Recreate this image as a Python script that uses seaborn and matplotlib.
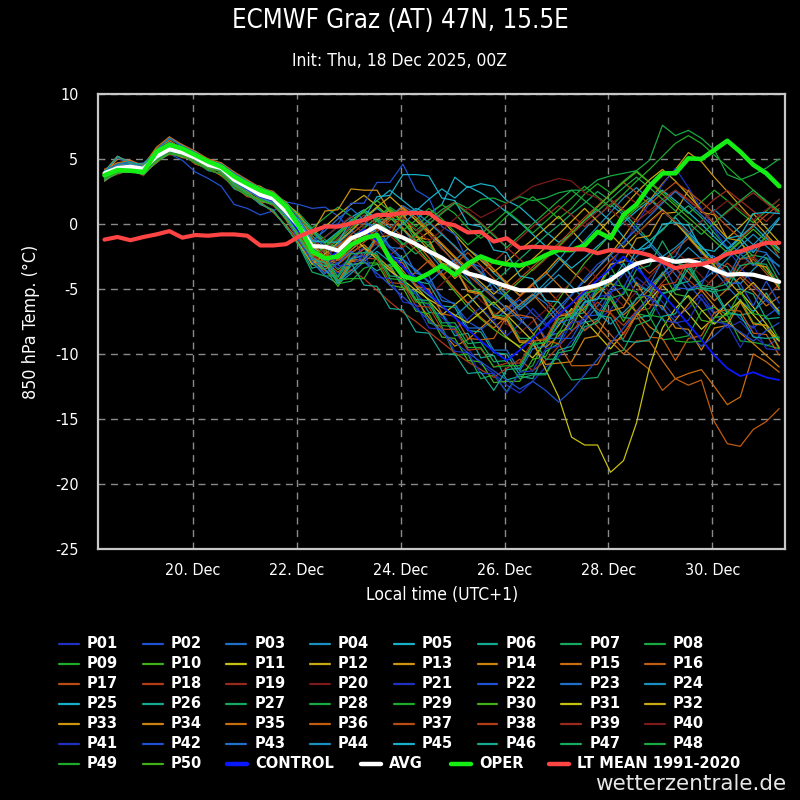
import numpy as np
import pandas as pd
import matplotlib
matplotlib.use("Agg")
import matplotlib.pyplot as plt
import matplotlib.dates as mdates
from matplotlib.lines import Line2D
import seaborn as sns

# ---------------- data ----------------
times = pd.date_range("2025-12-18 07:00", periods=53, freq="6h")

p01 = [3.4,3.9,4.1,3.8,4.8,5.4,5.2,4.9,4.3,4.1,3.1,2.4,1.8,1.5,0.4,-0.8,-2.5,-3.2,-3.8,-2.9,-2.2,-1.5,-2.4,-3.0,-4.1,-5.2,-6.8,-8.3,-9.6,-10.8,-11.5,-12.4,-13.0,-12.1,-11.0,-10.2,-9.0,-8.1,-7.4,-6.6,-5.2,-4.1,-4.9,-6.0,-7.2,-6.5,-5.4,-6.8,-8.0,-7.5,-8.6,-9.4,-8.8]
p02 = [3.3,4.0,4.4,4.3,5.2,5.4,4.9,4.0,3.5,2.9,1.5,1.2,0.7,1.0,1.7,1.5,1.2,1.3,0.6,-0.5,-1.2,-0.8,-1.9,-2.8,-3.5,-4.4,-5.6,-6.2,-7.5,-8.1,-7.4,-6.6,-5.8,-6.9,-7.8,-6.7,-5.5,-4.2,-3.1,-2.4,-3.3,-4.5,-5.2,-4.0,-3.4,-4.6,-5.8,-6.9,-6.1,-7.3,-8.0,-7.1,-6.4]
p03 = [3.7,4.6,4.5,4.4,5.3,6.1,5.7,5.1,4.7,4.1,3.3,2.5,2.1,1.5,0.6,-0.4,-1.8,-2.6,-3.1,-2.0,-1.1,-0.3,0.6,1.4,0.8,-0.5,-1.8,-3.0,-4.2,-5.5,-6.3,-7.0,-6.2,-5.4,-6.1,-7.3,-8.2,-7.5,-6.3,-5.0,-3.8,-2.5,-1.6,-2.7,-3.9,-5.1,-4.4,-3.6,-4.8,-5.9,-6.7,-5.8,-7.0]
p04 = [3.6,4.1,4.2,4.0,5.0,5.6,5.4,5.0,4.4,4.4,3.6,3.0,2.5,2.1,1.2,0.2,-1.2,-2.3,-1.5,-0.6,0.4,1.2,0.5,-0.4,-1.6,-2.2,-3.4,-2.8,-1.9,-2.6,-3.8,-4.6,-5.5,-4.7,-3.9,-2.8,-1.5,-0.4,0.6,1.5,0.7,-0.5,-1.4,-2.5,-1.8,-0.9,-1.7,-2.9,-3.8,-4.6,-3.5,-2.6,-3.2]
p05 = [4.0,5.2,4.7,4.6,5.6,6.2,5.9,5.3,4.8,4.5,3.5,2.9,2.1,1.8,0.7,-0.6,-1.5,-1.0,-0.2,0.5,1.1,0.4,-0.3,0.5,1.2,0.8,1.5,3.6,2.8,3.1,2.9,1.8,1.3,0.4,-0.6,-1.4,-0.8,0.3,1.1,0.2,-1.0,-2.1,-1.3,-0.4,0.5,-0.6,-1.7,-2.8,-2.0,-1.1,-2.2,-0.9,0.4]
p06 = [3.7,4.3,4.3,4.1,5.1,5.8,5.5,5.2,4.5,4.0,3.0,2.3,1.6,1.0,-0.2,-1.6,-3.4,-3.1,-4.5,-3.2,-2.9,-3.6,-3.1,-4.9,-5.2,-6.8,-6.9,-8.6,-8.4,-10.3,-10.1,-12.0,-11.7,-11.9,-9.8,-9.2,-7.1,-6.8,-4.8,-4.6,-3.0,-4.7,-5.2,-6.6,-4.7,-4.4,-2.7,-2.9,-3.3,-5.0,-5.4,-7.3,-7.2]
p07 = [3.9,4.4,4.5,4.2,5.3,5.9,5.6,5.0,4.6,4.3,3.6,3.2,2.8,2.4,1.6,0.3,-0.9,-1.8,-0.9,0.2,0.9,0.3,-0.6,-1.5,-2.3,-1.6,-0.8,-1.7,-2.9,-3.8,-4.5,-3.6,-2.7,-1.8,-0.9,-0.1,0.8,1.6,2.5,1.8,0.9,-0.2,-1.3,-0.5,0.6,1.4,0.5,-0.7,-1.8,-2.7,-1.9,-1.0,-2.0]
p08 = [3.5,4.0,4.3,4.1,4.9,5.5,5.3,4.7,4.2,3.8,2.8,2.2,1.9,1.5,0.8,-0.5,-2.6,-3.0,-4.6,-4.4,-3.4,-3.1,-3.2,-4.9,-5.4,-7.6,-7.9,-10.1,-10.0,-11.9,-11.6,-12.9,-11.4,-10.9,-8.7,-8.4,-6.6,-6.6,-5.1,-4.6,-4.8,-6.9,-7.1,-8.9,-8.8,-8.6,-6.7,-6.4,-7.0,-9.0,-9.1,-9.3,-9.6]
p09 = [4.1,4.6,4.8,4.4,5.7,6.6,6.0,5.5,4.9,4.6,3.9,3.3,2.7,2.4,1.5,0.6,-0.4,-1.2,-2.0,-1.1,-0.3,0.5,1.3,0.6,-0.2,0.7,1.5,0.8,-0.3,-1.1,-0.4,0.6,1.4,2.1,1.3,0.4,1.2,2.3,3.1,2.4,3.3,4.1,3.2,2.5,1.6,0.8,1.7,2.6,1.8,0.9,0.1,1.0,1.9]
p10 = [3.8,4.4,4.7,4.4,5.5,6.1,5.7,5.3,4.7,4.4,3.7,3.1,2.6,2.2,1.3,0.1,-1.4,-2.6,-3.5,-2.7,-1.8,-2.5,-3.4,-2.6,-1.7,-2.9,-4.0,-5.2,-6.4,-7.3,-8.1,-8.8,-9.4,-8.6,-7.2,-5.8,-4.4,-3.0,-1.9,-0.8,0.3,1.2,2.0,1.1,0.2,-0.9,-2.0,-3.1,-2.3,-1.4,-2.5,-3.6,-4.7]
p11 = [3.5,4.2,4.1,4.1,4.9,5.7,5.3,5.1,4.3,4.5,3.5,3.1,2.4,2.2,1.1,-0.3,-1.9,-3.0,-2.2,-1.3,-0.5,-1.4,-2.5,-3.6,-4.8,-5.9,-7.0,-6.2,-5.4,-6.5,-7.6,-8.7,-9.5,-10.3,-9.1,-7.8,-6.5,-7.4,-8.5,-9.6,-8.4,-7.0,-5.9,-4.7,-5.8,-6.9,-8.1,-7.2,-6.1,-5.2,-6.4,-7.7,-9.0]
p12 = [4.0,4.3,4.6,4.1,5.4,5.8,5.7,4.9,4.7,4.2,3.7,3.1,2.9,2.3,1.7,0.4,-0.8,-0.2,0.7,1.5,2.2,1.4,0.5,-0.4,-1.3,-0.6,0.3,-0.8,-1.9,-2.8,-3.7,-2.9,-2.0,-1.2,-0.3,0.6,-0.5,-1.6,-0.7,0.4,1.3,2.4,3.4,4.2,3.3,2.2,1.1,0.0,-1.1,-0.2,0.8,-0.3,-1.4]
p13 = [3.9,5.0,4.8,4.5,5.8,6.4,5.8,5.4,4.7,4.6,3.4,3.0,2.0,1.9,0.8,-0.9,-2.4,-3.3,-2.5,-1.6,-0.7,0.3,1.1,0.2,-0.9,-2.0,-3.1,-4.2,-3.3,-2.4,-3.5,-4.6,-5.5,-4.6,-3.7,-2.6,-3.6,-4.5,-3.4,-2.3,-1.0,0.4,1.8,3.1,4.2,5.5,4.8,3.6,2.5,1.4,0.3,-0.8,-1.9]
p14 = [3.3,4.0,4.0,3.9,4.7,5.5,5.1,5.0,4.2,4.2,3.0,2.5,1.7,1.6,0.3,-1.2,-2.6,-3.8,-3.0,-2.2,-1.6,-2.5,-3.4,-4.6,-5.8,-7.2,-8.3,-9.4,-8.9,-8.0,-7.1,-6.3,-7.2,-8.4,-9.5,-8.6,-7.5,-6.4,-5.3,-4.5,-5.7,-6.8,-7.9,-8.6,-7.4,-6.2,-5.1,-6.3,-7.5,-8.4,-9.2,-10.1,-11.0]
p15 = [3.8,4.2,4.4,4.0,5.2,5.7,5.6,5.1,4.6,3.9,3.1,2.2,1.7,0.9,-0.1,-1.3,-2.8,-3.5,-2.7,-1.8,-1.0,-0.2,0.7,-0.3,-1.4,-2.6,-3.8,-5.0,-6.1,-7.2,-8.0,-7.1,-6.2,-5.4,-6.5,-7.6,-6.8,-5.7,-4.6,-5.8,-7.0,-6.1,-5.0,-3.9,-2.8,-3.7,-4.8,-5.9,-5.0,-4.1,-5.2,-6.3,-5.6]
p16 = [3.6,3.9,4.4,4.0,5.0,5.4,5.4,4.6,4.3,3.7,2.9,2.1,2.0,1.4,0.9,-0.7,-2.0,-2.9,-3.7,-2.8,-1.9,-2.7,-3.6,-4.5,-3.7,-2.8,-3.9,-5.0,-6.1,-5.3,-4.4,-5.5,-6.6,-5.8,-4.9,-6.0,-7.1,-8.2,-7.4,-8.5,-9.6,-10.4,-11.2,-12.8,-11.9,-12.4,-12.0,-15.2,-16.9,-17.1,-15.8,-15.2,-14.2]
p17 = [4.2,4.5,4.9,4.3,5.8,6.5,6.1,5.4,5.0,4.5,4.0,3.2,2.8,2.3,1.6,0.3,-1.1,-2.2,-3.1,-2.3,-1.4,-0.6,0.3,1.1,0.3,-0.8,-1.9,-2.9,-3.9,-4.8,-5.7,-6.5,-5.6,-4.7,-5.8,-6.9,-6.1,-5.0,-3.9,-2.8,-1.9,-2.9,-3.8,-2.9,-2.0,-1.1,-2.2,-3.3,-4.4,-3.6,-2.7,-3.8,-4.9]
p18 = [3.9,4.4,4.7,4.2,5.5,5.9,5.5,5.3,4.5,4.3,3.1,2.7,1.9,1.7,0.4,-1.0,-2.4,-3.6,-4.3,-3.5,-4.2,-5.1,-6.0,-6.8,-7.5,-8.3,-9.1,-9.9,-10.6,-11.2,-11.8,-11.1,-10.4,-11.3,-10.5,-9.4,-8.3,-7.1,-6.0,-6.9,-7.8,-6.7,-5.6,-4.5,-3.4,-4.3,-5.2,-4.1,-3.0,-3.9,-4.8,-5.7,-4.6]
p19 = [3.8,4.5,4.4,4.3,5.2,6.0,5.5,5.1,4.5,4.4,3.5,3.3,2.7,2.5,1.5,0.5,-0.7,-1.5,-0.8,0.1,-0.7,-1.6,-2.4,-1.6,-0.7,0.2,-0.7,-1.8,-2.9,-3.8,-2.9,-2.0,-1.1,-0.2,0.6,1.4,0.7,-0.2,0.6,1.5,2.3,1.6,0.8,1.7,2.5,1.8,1.0,1.9,2.6,1.8,1.0,0.2,1.2]
p20 = [3.5,3.8,4.2,3.7,4.9,5.3,5.3,4.8,4.4,4.0,3.2,2.3,1.9,1.4,0.5,-0.9,-2.3,-3.2,-2.4,-1.5,-0.6,-1.5,-2.6,-3.7,-4.6,-5.5,-4.6,-3.7,-4.8,-5.9,-6.8,-7.7,-8.4,-7.5,-6.6,-5.5,-4.4,-3.3,-4.2,-5.3,-6.3,-5.2,-4.1,-3.0,-2.1,-3.0,-4.0,-5.0,-4.2,-3.3,-2.5,-3.4,-4.3]
p21 = [3.7,4.0,4.3,3.9,5.1,5.5,5.5,4.9,4.5,4.3,3.7,2.9,2.6,2.0,1.3,0.0,-1.6,-2.7,-3.4,-2.6,-1.8,-2.7,-3.6,-4.5,-5.4,-6.3,-7.2,-8.1,-7.3,-6.4,-7.5,-8.6,-7.7,-6.5,-7.6,-8.8,-7.6,-6.2,-4.8,-3.2,-1.6,0.0,1.6,3.0,4.3,2.8,1.2,-0.4,-1.9,-3.3,-4.6,-5.9,-6.8]
p22 = [4.1,5.1,4.6,4.7,5.5,6.3,5.8,5.2,4.9,4.4,3.6,2.8,2.2,1.7,0.8,-0.5,-1.7,-0.2,0.0,1.6,1.6,3.2,3.2,4.6,2.6,2.0,-0.2,-0.8,-2.9,-3.3,-5.2,-5.5,-7.2,-7.2,-8.8,-8.8,-8.8,-7.1,-7.0,-5.2,-4.9,-3.0,-2.7,-3.0,-4.9,-5.0,-4.7,-2.8,-4.5,-4.6,-6.3,-4.4,-6.1]
p23 = [4.0,4.7,4.7,4.5,5.6,6.7,5.9,5.6,4.8,4.7,3.8,3.4,2.6,2.5,1.4,0.2,-1.6,-1.7,-1.7,0.0,0.0,-0.1,-1.8,-1.9,-3.8,-4.0,-5.9,-6.1,-8.0,-8.0,-9.7,-9.7,-11.3,-9.6,-9.4,-7.6,-7.3,-5.4,-5.0,-3.1,-2.8,-3.0,-4.7,-2.8,-2.5,-0.6,-2.3,-2.5,-4.2,-2.3,-2.0,-2.2,-3.9]
p24 = [3.6,4.4,4.2,4.2,5.0,5.9,5.4,5.3,4.4,4.1,2.9,2.4,1.5,1.1,-0.3,-1.4,-2.9,-4.0,-4.6,-3.8,-2.9,-2.1,-2.9,-3.8,-4.7,-5.5,-6.3,-7.1,-6.2,-5.3,-4.4,-5.4,-6.4,-5.5,-4.5,-3.5,-2.4,-1.3,-0.2,0.9,2.0,2.8,1.9,1.0,0.1,-0.8,0.2,1.1,0.2,-0.7,-1.6,-0.6,0.5]
p25 = [4.0,4.4,4.4,4.3,5.3,5.8,5.6,5.1,4.6,4.2,3.7,3.3,2.8,2.4,1.6,0.6,-0.5,-1.4,-0.6,0.3,1.0,1.8,2.6,1.8,1.0,1.9,2.7,2.0,2.9,2.4,1.7,0.9,0.1,-0.8,-1.7,-2.5,-3.4,-2.6,-1.7,-0.8,0.1,1.0,1.8,2.6,1.8,0.9,0.0,-1.0,-1.9,-1.0,-0.1,-1.1,-2.0]
p26 = [3.4,4.1,4.2,4.2,4.8,5.6,5.2,4.8,4.1,3.9,2.7,2.3,1.8,1.6,0.7,-0.2,-2.1,-2.5,-4.1,-2.7,-2.4,-0.9,-2.5,-2.7,-4.4,-4.6,-6.3,-6.4,-8.2,-8.3,-9.9,-10.0,-11.6,-11.5,-11.5,-9.7,-9.4,-7.6,-7.3,-5.5,-7.2,-7.3,-7.0,-5.3,-5.1,-3.4,-4.9,-5.3,-6.9,-7.0,-6.8,-5.3,-6.9]
p27 = [3.8,4.5,4.5,4.4,5.4,6.0,5.7,5.2,4.6,4.1,3.2,2.6,2.1,1.6,0.5,-0.9,-3.0,-3.2,-3.1,-1.5,-1.3,0.3,0.4,0.3,-1.3,-1.4,-3.2,-3.4,-5.1,-5.2,-7.0,-7.1,-8.8,-8.8,-10.4,-10.4,-12.0,-11.9,-11.8,-10.0,-9.7,-7.8,-7.4,-5.4,-5.0,-3.0,-4.7,-4.9,-4.6,-2.7,-2.4,-2.6,-4.4]
p28 = [4.1,4.6,4.8,4.4,5.7,6.6,6.0,5.5,4.9,4.6,3.9,3.3,2.7,2.4,1.5,0.8,-0.3,0.5,1.3,0.6,-0.3,0.5,1.2,0.4,-0.5,0.3,1.1,1.7,1.2,1.9,2.0,1.6,2.1,1.8,2.0,2.4,2.6,2.6,3.4,3.7,3.9,4.1,4.9,7.6,6.8,7.2,6.6,5.7,3.8,3.4,3.8,4.3,5.0]
p29 = [3.6,4.1,4.3,4.0,5.0,5.6,5.4,5.0,4.4,4.3,3.6,3.0,2.5,2.1,1.2,0.1,-1.3,-2.1,-1.2,-0.3,0.5,1.3,0.5,-0.5,0.3,1.2,0.4,-0.6,-1.6,-0.8,0.1,1.0,0.2,-0.7,0.2,1.1,2.0,2.9,2.1,1.3,2.3,3.3,4.2,5.2,6.2,6.8,6.2,5.3,4.4,3.5,2.6,1.7,0.9]
p30 = [3.4,3.9,4.1,3.8,4.8,5.4,5.2,4.9,4.2,4.1,3.1,2.4,1.8,1.5,0.4,-1.1,-3.1,-3.5,-4.8,-3.1,-3.0,-3.0,-4.7,-4.9,-6.7,-6.9,-8.7,-8.8,-10.5,-10.6,-12.2,-12.1,-12.1,-10.4,-10.2,-8.3,-8.0,-6.0,-5.7,-5.8,-7.5,-5.7,-5.5,-3.7,-5.4,-5.6,-7.4,-7.6,-7.5,-5.8,-7.6,-7.8,-9.6]
p31 = [4.0,5.2,4.7,4.6,5.6,6.2,5.9,5.3,4.8,4.5,3.5,2.9,2.1,1.8,0.7,-0.3,-1.7,-2.5,-1.7,-0.9,-1.8,-2.7,-3.6,-4.3,-5.1,-5.8,-6.4,-7.0,-7.6,-6.8,-6.0,-7.0,-8.0,-9.0,-11.2,-13.3,-16.4,-17.0,-17.0,-19.1,-18.2,-15.3,-11.0,-8.0,-6.5,-5.5,-6.6,-7.7,-6.8,-5.9,-7.0,-8.1,-9.0]
p32 = [3.7,4.3,4.3,4.1,5.1,5.8,5.5,5.2,4.5,4.0,3.0,2.3,1.6,1.0,-0.2,-1.5,-3.1,-2.3,-1.4,-0.5,0.4,1.3,2.1,1.2,0.3,-0.6,-1.6,-2.6,-3.6,-4.5,-5.4,-4.5,-3.6,-2.7,-1.8,-0.8,0.2,1.2,0.2,-0.8,-1.8,-0.8,0.2,1.1,0.1,-1.0,-2.1,-3.2,-4.3,-5.4,-4.5,-5.6,-6.7]
p33 = [3.9,4.4,4.5,4.2,5.3,5.9,5.6,5.0,4.6,4.3,3.6,3.2,2.8,2.4,1.6,0.7,-0.7,1.0,1.1,2.7,2.6,2.6,0.9,0.8,-1.0,-1.2,-3.0,-3.3,-5.1,-5.3,-7.1,-7.3,-9.0,-9.0,-8.9,-7.1,-6.9,-5.1,-4.9,-3.1,-2.9,-1.1,-0.9,0.8,0.9,2.6,0.9,0.7,-1.1,-1.3,-3.1,-3.3,-5.0]
p34 = [3.5,4.0,4.3,4.1,4.9,5.5,5.3,4.7,4.2,3.8,2.8,2.2,1.9,1.5,0.8,-0.4,-2.3,-2.7,-4.4,-2.8,-2.7,-1.0,-0.9,0.8,-1.0,-1.2,-3.1,-3.3,-5.2,-5.4,-7.2,-7.4,-9.1,-9.2,-10.8,-10.7,-10.6,-8.8,-8.6,-6.7,-6.4,-4.5,-6.2,-6.3,-8.0,-8.1,-9.7,-8.0,-7.8,-6.0,-7.7,-7.8,-9.5]
p35 = [4.2,4.7,4.9,4.5,5.9,6.7,6.1,5.6,5.0,4.7,4.0,3.4,2.8,2.5,1.6,0.2,-1.1,-2.0,-2.8,-2.0,-1.2,-0.4,0.5,1.3,0.5,-0.5,-1.5,-2.5,-3.4,-2.6,-3.5,-4.5,-5.5,-4.6,-3.7,-4.7,-5.8,-6.8,-7.9,-9.0,-10.0,-9.0,-9.0,-10.5,-11.9,-11.5,-11.2,-12.5,-13.9,-13.3,-10.0,-10.6,-11.4]
p36 = [3.8,4.5,4.6,4.3,5.4,6.0,5.6,5.2,4.6,4.2,3.2,2.6,2.0,1.6,0.5,-0.8,-2.6,-2.9,-4.5,-2.9,-2.8,-1.1,-2.8,-3.0,-4.8,-5.0,-6.9,-7.1,-8.8,-8.9,-8.8,-7.1,-7.0,-7.2,-9.0,-9.2,-10.9,-10.9,-10.8,-9.0,-8.8,-7.0,-8.7,-8.8,-10.5,-8.8,-8.6,-6.8,-6.6,-6.7,-8.4,-8.5,-10.1]
p37 = [3.6,4.1,4.2,4.0,5.0,5.6,5.4,5.0,4.4,4.4,3.6,3.0,2.5,2.1,1.2,0.0,-1.5,-2.5,-1.7,-0.8,0.0,0.8,-0.1,-1.0,-2.0,-3.0,-4.0,-3.1,-2.2,-3.2,-4.2,-5.1,-4.2,-3.3,-2.4,-1.5,-0.5,0.5,1.4,2.3,3.2,2.4,1.5,2.4,3.2,2.5,1.7,0.8,-0.2,-1.1,-0.2,0.7,1.5]
p38 = [4.0,5.2,4.7,4.6,5.6,6.2,5.9,5.3,4.8,4.5,3.5,2.9,2.1,1.8,0.7,-0.7,-2.5,-2.6,-2.6,-0.9,-2.6,-2.7,-4.5,-4.6,-6.3,-6.4,-8.1,-8.1,-9.7,-9.6,-11.0,-10.7,-10.7,-9.0,-8.8,-7.0,-6.8,-4.9,-6.6,-6.8,-8.5,-6.7,-6.5,-4.7,-4.5,-2.7,-2.6,-2.7,-4.4,-2.7,-2.6,-0.9,-2.6]
p39 = [3.7,4.3,4.3,4.1,5.1,5.8,5.5,5.2,4.5,4.0,3.0,2.3,1.6,1.0,-0.2,-1.4,-2.7,-1.9,-1.1,-0.2,0.7,0.0,-0.9,-1.8,-0.9,0.0,0.9,1.7,0.9,0.1,-0.8,-1.8,-2.7,-3.6,-2.7,-1.8,-0.8,0.1,1.0,1.9,1.1,0.2,1.0,1.9,2.6,1.9,1.0,0.1,0.9,1.7,2.4,1.6,0.8]
p40 = [3.5,4.0,4.3,4.1,4.9,5.5,5.3,4.7,4.2,3.8,2.8,2.2,1.9,1.5,0.8,-0.6,-1.8,-1.0,-0.2,0.6,-0.3,-1.2,-0.4,0.5,-0.4,-1.3,-0.5,0.4,1.2,0.5,1.0,1.6,2.2,2.9,3.2,3.5,3.3,2.4,2.0,1.1,0.2,-0.8,0.1,1.0,0.2,-0.7,0.2,1.0,1.8,1.1,0.3,1.1,1.9]
p41 = [3.9,4.4,4.5,4.2,5.3,5.9,5.6,5.0,4.6,4.3,3.6,3.2,2.8,2.4,1.6,0.4,-1.3,-1.5,-3.2,-3.2,-2.4,-4.1,-4.2,-6.0,-6.2,-8.0,-8.1,-9.8,-9.9,-11.5,-11.5,-13.0,-11.4,-11.3,-9.6,-9.4,-7.6,-7.4,-5.6,-5.4,-3.6,-5.4,-5.6,-7.4,-7.6,-7.4,-5.7,-7.5,-7.7,-9.5,-7.8,-9.6,-9.7]
p42 = [3.4,3.9,4.1,3.8,4.8,5.4,5.2,4.9,4.3,4.1,3.1,2.4,1.8,1.5,0.4,-1.3,-2.9,-3.8,-3.0,-2.1,-2.9,-3.8,-4.7,-5.6,-6.5,-7.4,-8.3,-9.1,-9.9,-10.6,-11.3,-12.0,-12.7,-12.1,-12.8,-13.7,-12.8,-11.6,-10.4,-9.2,-8.0,-6.8,-5.6,-6.5,-7.5,-8.5,-9.4,-8.6,-7.7,-8.3,-9.0,-8.2,-7.6]
p43 = [4.1,4.6,4.8,4.4,5.7,6.6,6.0,5.5,4.9,4.6,3.9,3.3,2.7,2.4,1.5,0.1,-1.3,-0.5,0.4,1.2,0.3,-0.7,-1.7,-2.7,-3.6,-4.5,-3.6,-2.7,-3.7,-4.7,-5.6,-6.5,-7.4,-8.2,-7.3,-6.4,-5.4,-4.4,-3.4,-2.4,-1.4,-0.4,0.6,1.6,2.5,1.6,0.7,-0.3,-1.3,-2.3,-3.2,-2.3,-3.3]
p44 = [3.8,4.5,4.6,4.3,5.4,6.0,5.6,5.2,4.6,4.2,3.2,2.6,2.0,1.6,0.5,-1.0,-2.5,-3.5,-4.4,-3.6,-2.7,-1.8,-0.9,0.0,0.9,0.1,-0.8,-1.7,-2.7,-3.7,-4.7,-5.7,-6.6,-5.7,-4.8,-3.9,-4.8,-5.8,-6.8,-7.7,-6.8,-5.8,-4.8,-3.8,-2.8,-1.8,-2.7,-3.7,-2.7,-1.7,-0.8,-1.7,-2.6]
p45 = [3.6,4.1,4.2,4.0,5.0,5.6,5.4,5.0,4.4,4.4,3.6,3.0,2.5,2.1,1.2,0.3,-1.3,-1.4,-1.4,0.3,0.4,2.1,2.2,3.8,3.8,3.7,2.0,1.8,0.0,-0.2,-2.0,-2.2,-4.0,-4.2,-5.9,-6.0,-7.3,-6.0,-5.8,-4.0,-3.8,-2.0,-1.8,0.0,0.1,-0.1,-1.9,-2.1,-1.1,-0.9,0.8,0.9,0.8]
p46 = [4.0,5.2,4.7,4.6,5.6,6.2,5.9,5.3,4.8,4.5,3.5,2.9,2.1,1.8,0.7,-0.9,-2.7,-3.0,-4.6,-3.0,-4.7,-4.8,-6.5,-6.6,-8.3,-8.4,-10.0,-10.0,-11.5,-11.4,-12.8,-11.2,-11.1,-9.3,-9.1,-7.3,-7.1,-5.3,-7.0,-7.2,-9.0,-9.1,-8.9,-7.1,-6.9,-5.1,-4.9,-5.0,-6.8,-7.0,-8.7,-8.8,-8.7]
p47 = [3.7,4.3,4.3,4.1,5.1,5.8,5.5,5.2,4.5,4.0,3.0,2.3,1.6,1.0,-0.2,-1.7,-3.7,-4.0,-4.0,-2.3,-2.2,-2.3,-4.0,-4.1,-5.8,-5.9,-7.6,-7.6,-9.2,-9.1,-10.6,-10.5,-11.9,-11.6,-11.6,-9.9,-9.7,-7.9,-7.6,-5.7,-5.4,-3.5,-3.2,-1.3,-3.0,-3.2,-5.0,-5.2,-5.0,-3.2,-3.0,-3.1,-4.8]
p48 = [3.9,4.4,4.5,4.2,5.3,5.9,5.6,5.0,4.6,4.3,3.6,3.2,2.8,2.4,1.6,0.5,-0.6,-1.5,-0.7,0.2,1.0,0.2,-0.7,-1.6,-0.8,0.0,0.8,1.6,0.8,0.0,-0.9,-1.8,-0.9,0.0,0.9,1.8,2.6,1.8,1.0,1.9,2.8,3.6,2.8,1.9,1.0,0.1,-0.8,0.1,1.0,1.8,2.6,1.8,1.0]
p49 = [3.5,4.0,4.3,4.1,4.9,5.5,5.3,4.7,4.2,3.8,2.8,2.2,1.9,1.5,0.8,-0.3,-2.2,-2.6,-4.3,-4.2,-4.2,-2.5,-4.2,-4.3,-6.0,-6.1,-7.8,-7.9,-9.5,-9.5,-11.0,-10.9,-10.9,-9.2,-9.1,-7.3,-7.1,-5.3,-5.1,-3.3,-5.0,-5.2,-7.0,-7.2,-9.0,-9.1,-9.0,-7.2,-7.0,-5.2,-6.9,-7.1,-8.9]
p50 = [3.4,3.9,4.1,3.8,4.8,5.4,5.2,4.9,4.3,4.1,3.1,2.4,1.8,1.5,0.4,-1.0,-2.5,-1.7,-0.8,0.1,1.0,1.8,1.0,0.1,-0.8,-1.7,-2.6,-3.5,-4.4,-5.3,-6.2,-5.3,-4.4,-3.5,-2.6,-1.7,-0.7,0.3,1.3,2.3,3.2,4.0,3.2,2.3,1.4,0.5,-0.4,-1.3,-2.2,-1.3,-0.4,-1.3,-2.2]

control = [3.7,4.2,4.4,4.2,5.2,5.8,5.5,5.0,4.5,4.2,3.3,2.7,2.1,1.8,0.8,-0.6,-2.0,-2.8,-2.1,-1.2,-0.4,-1.3,-2.3,-3.3,-4.3,-5.3,-6.3,-7.2,-8.1,-9.0,-9.8,-10.5,-9.7,-8.8,-7.9,-7.0,-6.1,-5.2,-4.3,-3.4,-2.5,-3.4,-4.4,-5.4,-6.5,-7.7,-8.9,-10.1,-11.1,-11.7,-11.4,-11.8,-12.0]
avg = [3.9,4.3,4.4,4.25,5.2,5.75,5.5,5.1,4.55,4.3,3.4,2.85,2.25,1.95,0.95,-0.2,-1.7,-1.75,-2.05,-1.1,-0.7,-0.15,-0.7,-1.05,-1.55,-2.1,-2.6,-3.25,-3.8,-4.05,-4.45,-4.8,-5.1,-5.1,-5.1,-5.1,-5.15,-4.95,-4.7,-4.3,-3.6,-3.05,-2.8,-2.65,-2.9,-2.8,-3.05,-3.5,-3.9,-3.85,-3.9,-4.15,-4.45]
oper = [3.75,4.15,4.1,4.0,5.55,6.1,5.8,5.3,4.8,4.4,3.65,3.1,2.6,2.25,1.35,-0.2,-2.1,-2.65,-2.5,-1.6,-1.1,-0.85,-2.7,-4.0,-4.3,-3.8,-3.2,-3.9,-3.05,-2.5,-2.9,-3.1,-3.2,-2.9,-2.4,-2.0,-2.0,-1.65,-0.6,-1.1,0.7,1.5,2.9,3.9,3.9,5.05,5.0,5.7,6.4,5.55,4.55,3.9,2.9]
lt_mean = [-1.2,-1.0,-1.25,-1.0,-0.8,-0.55,-1.05,-0.85,-0.9,-0.8,-0.8,-0.9,-1.65,-1.65,-1.55,-0.95,-0.55,-0.2,-0.2,0.05,0.3,0.7,0.7,0.85,0.85,0.85,0.1,-0.1,-0.65,-0.6,-1.35,-1.1,-1.85,-1.75,-1.8,-1.85,-1.95,-1.95,-2.25,-2.0,-2.1,-2.15,-2.4,-2.9,-3.4,-3.2,-3.1,-2.8,-2.3,-2.1,-1.75,-1.45,-1.45]

member_series = [p01,p02,p03,p04,p05,p06,p07,p08,p09,p10,p11,p12,p13,p14,p15,p16,p17,p18,p19,p20,
                 p21,p22,p23,p24,p25,p26,p27,p28,p29,p30,p31,p32,p33,p34,p35,p36,p37,p38,p39,p40,
                 p41,p42,p43,p44,p45,p46,p47,p48,p49,p50]
member_names = [f"P{i:02d}" for i in range(1, 51)]
for nm, s in zip(member_names, member_series):
    assert len(s) == len(times), (nm, len(s))
for s in (control, avg, oper, lt_mean):
    assert len(s) == len(times)

y_ticks = [-25, -20, -15, -10, -5, 0, 5, 10]
x_tick_dates = pd.to_datetime(["2025-12-20", "2025-12-22", "2025-12-24",
                               "2025-12-26", "2025-12-28", "2025-12-30"])

# ---------------- style ----------------
pal20 = ['#2030c0', '#1f50d0', '#1f70c8', '#1a90c0', '#18b0c8', '#14a890', '#14a860', '#18a840',
         '#1caa28', '#40b018', '#c8c010', '#c8a810', '#cc9410', '#cc8010', '#c86c10', '#c05c10',
         '#b84c14', '#b03c18', '#9a2a1e', '#7a1a1a']
member_colors = {nm: pal20[i % 20] for i, nm in enumerate(member_names)}
C_CONTROL = '#0a18ff'
C_AVG = '#ffffff'
C_OPER = '#14ee14'
C_LT = '#ff4444'

sns.set_style("dark", rc={"axes.facecolor": "black", "figure.facecolor": "black",
                          "axes.edgecolor": "#c8c8c8", "text.color": "white",
                          "xtick.color": "#b0b0b0", "ytick.color": "white"})
plt.rcParams['font.family'] = ['DejaVu Sans']
NARROW = dict(family='DejaVu Sans', fontstretch='condensed')

W = H = 800
fig = plt.figure(figsize=(8, 8), dpi=100)
fig.patch.set_facecolor('black')
ax = fig.add_axes([98 / W, 1 - 549 / H, (785 - 98) / W, (549 - 94) / H])
ax.set_facecolor('black')

df = pd.DataFrame({
    "time": np.tile(times, len(member_names)),
    "temp": np.concatenate([np.asarray(s, float) for s in member_series]),
    "member": np.repeat(member_names, len(times)),
})
sns.lineplot(data=df, x="time", y="temp", hue="member", palette=member_colors,
             linewidth=0.9, legend=False, estimator=None, ax=ax)
sns.lineplot(x=times, y=control, color=C_CONTROL, linewidth=1.3, ax=ax)
sns.lineplot(x=times, y=avg, color=C_AVG, linewidth=3.0, ax=ax)
sns.lineplot(x=times, y=oper, color=C_OPER, linewidth=3.3, ax=ax)
sns.lineplot(x=times, y=lt_mean, color=C_LT, linewidth=3.0, ax=ax)

ax.set_xlim(pd.Timestamp("2025-12-18 04:00"), pd.Timestamp("2025-12-31 09:40"))
ax.set_ylim(-25, 10)
ax.set_yticks(y_ticks, labels=[str(t) for t in y_ticks])
ax.set_xticks(x_tick_dates)
ax.xaxis.set_major_formatter(mdates.DateFormatter("%d. %b"))
ax.set_xlabel("")
ax.set_ylabel("")
ax.set_axisbelow(True)
ax.grid(True, color='#8a8a8a', linestyle=(0, (5, 4)), linewidth=1.0)
for sp in ax.spines.values():
    sp.set_color('#c8c8c8')
    sp.set_linewidth(1.6)
ax.tick_params(axis='y', length=0, pad=14, labelsize=11.5, labelcolor='white')
ax.tick_params(axis='x', direction='out', length=7, width=1, color='#b8c4d8',
               pad=3, labelsize=11.5, labelcolor='white')
for lab in ax.get_xticklabels() + ax.get_yticklabels():
    lab.set_fontstretch('condensed')

# titles and axis labels
fig.text(0.5, 1 - 21 / H, "ECMWF Graz (AT) 47N, 15.5E", ha='center', va='center',
         fontsize=18.5, color='white', **NARROW)
fig.text(0.5, 1 - 61 / H, "Init: Thu, 18 Dec 2025, 00Z", ha='center', va='center',
         fontsize=12.5, color='white', **NARROW)
fig.text(442 / W, 1 - 595 / H, "Local time (UTC+1)", ha='center', va='center',
         fontsize=12.5, color='white', **NARROW)
fig.text(31 / W, 1 - 322 / H, "850 hPa Temp. (°C)", ha='center', va='center',
         rotation=90, fontsize=12.8, color='white', **NARROW)

# legend (manual, flow layout like the original)
col_step = 83.7
for k, nm in enumerate(member_names):
    row, col = divmod(k, 8)
    x0 = 59 + col_step * col
    y0 = 644 + 20 * row
    fig.add_artist(Line2D([x0 / W, (x0 + 20) / W], [1 - y0 / H] * 2, transform=fig.transFigure,
                          color=member_colors[nm], linewidth=1.6))
    fig.text((x0 + 28) / W, 1 - y0 / H, nm, ha='left', va='center', fontsize=10.5,
             fontweight='bold', color='white', family='DejaVu Sans')
extra = [("CONTROL", C_CONTROL, 227), ("AVG", C_AVG, 361), ("OPER", C_OPER, 451),
         ("LT MEAN 1991-2020", C_LT, 549)]
for nm, c, x0 in extra:
    y0 = 764
    fig.add_artist(Line2D([x0 / W, (x0 + 20) / W], [1 - y0 / H] * 2, transform=fig.transFigure,
                          color=c, linewidth=3.2, solid_capstyle='round'))
    fig.text((x0 + 28) / W, 1 - y0 / H, nm, ha='left', va='center', fontsize=10.5,
             fontweight='bold', color='white', family='DejaVu Sans')

fig.text(786 / W, 1 - 784 / H, "wetterzentrale.de", ha='right', va='center',
         fontsize=15.5, color='#e6e6e6', family='DejaVu Sans')

fig.savefig("out.png", dpi=100, facecolor='black')
